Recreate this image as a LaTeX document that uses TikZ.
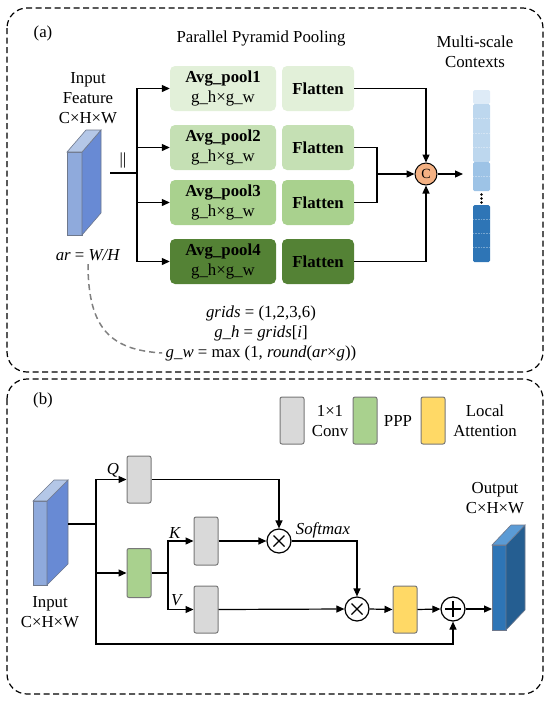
\documentclass[tikz,border=0pt]{standalone}
\usepackage{fontspec}
\setmainfont{Liberation Serif}
\usetikzlibrary{arrows.meta, positioning, calc}
\definecolor{poolA}{RGB}{226, 240, 217}
\definecolor{poolB}{RGB}{197, 224, 180}
\definecolor{poolC}{RGB}{169, 209, 142}
\definecolor{poolD}{RGB}{84, 130, 53}
\definecolor{catOrange}{RGB}{244, 177, 131}
\definecolor{ctxA}{RGB}{222, 235, 247}
\definecolor{ctxB}{RGB}{189, 215, 238}
\definecolor{ctxC}{RGB}{157, 195, 230}
\definecolor{ctxD}{RGB}{46, 117, 182}
\definecolor{inFront}{RGB}{143, 170, 220}
\definecolor{inSide}{RGB}{104, 138, 212}
\definecolor{inTop}{RGB}{180, 199, 231}
\definecolor{outFront}{RGB}{46, 117, 182}
\definecolor{outSide}{RGB}{37, 94, 145}
\definecolor{outTop}{RGB}{91, 155, 213}
\definecolor{cubeEdge}{RGB}{110, 120, 140}
\definecolor{convGray}{RGB}{217, 217, 217}
\definecolor{boxEdge}{RGB}{120, 120, 120}
\definecolor{pppGreen}{RGB}{169, 209, 142}
\definecolor{attnYellow}{RGB}{255, 217, 102}

\begin{document}
\begin{tikzpicture}[x=1pt, y=-1pt, font=\fontsize{16.8}{20}\selectfont,
    arr/.style={-{Triangle[length=8pt,width=7pt]}, line width=1.2pt},
    conn/.style={line width=1.2pt},
    panel/.style={dash pattern=on 6pt off 3.5pt, line width=1.2pt, rounded corners=20pt},
    poolbox/.style={rounded corners=5pt, minimum width=106pt, minimum height=45pt, align=center, inner sep=0pt},
    flatbox/.style={rounded corners=5pt, minimum width=72pt, minimum height=45pt, font=\fontsize{16.8}{20}\selectfont\bfseries, inner sep=0pt},
    cubeface/.style={draw=cubeEdge, line width=0.6pt, inner sep=0pt, outer sep=0pt},
    convbox/.style={draw=boxEdge, fill=convGray, rounded corners=2pt, line width=1pt, minimum width=24pt, minimum height=47pt, inner sep=0pt},
    opcirc/.style={circle, draw, line width=1.2pt, minimum size=24pt, inner sep=0pt},
    mulop/.style={opcirc, path picture={
        \draw[line width=1.2pt] ([shift={(-5.5pt,-5.5pt)}]path picture bounding box.center) -- ([shift={(5.5pt,5.5pt)}]path picture bounding box.center)
            ([shift={(-5.5pt,5.5pt)}]path picture bounding box.center) -- ([shift={(5.5pt,-5.5pt)}]path picture bounding box.center);}},
    addop/.style={opcirc, path picture={
        \draw[line width=1.2pt] ([shift={(-8pt,0pt)}]path picture bounding box.center) -- ([shift={(8pt,0pt)}]path picture bounding box.center)
            ([shift={(0pt,-8pt)}]path picture bounding box.center) -- ([shift={(0pt,8pt)}]path picture bounding box.center);}},
]
    \useasboundingbox (0,0) rectangle (550,702);

    % Panel (a): parallel pyramid pooling
    \draw[panel] (7,8) rectangle (543,372);
    \node (tagA) at (43,33) {(a)};
    \node (ppptitle) at (261,38) {Parallel Pyramid Pooling};
    \node[align=center] (ctxtitle) at (475,52) {Multi-scale\\Contexts};
    \node[align=center] (inAtxt) at (88,98) {Input\\Feature\\C×H×W};

    % input feature cuboid
    \node[cubeface, fill=inFront, minimum width=15pt, minimum height=83pt] (inA) at (74.5,193.5) {};
    \filldraw[fill=inSide, draw=cubeEdge, line width=0.6pt] (inA.north east) -- ++(19,-22) -- ++(0,83) -- (inA.south east) -- cycle;
    \filldraw[fill=inTop, draw=cubeEdge, line width=0.6pt] (inA.north west) -- ++(19,-22) -- ++(15,0) -- (inA.north east) -- cycle;
    \node (ar) at (88,255) {\textit{ar} = \textit{W/H}};
    \node (para) at (123,160) {||};

    % pooling branches
    \node[poolbox, fill=poolA] (pool1) at (223,88.5) {\textbf{Avg\_pool1}\\g\_h×g\_w};
    \node[poolbox, fill=poolB] (pool2) at (223,147.5) {\textbf{Avg\_pool2}\\g\_h×g\_w};
    \node[poolbox, fill=poolC] (pool3) at (223,202.5) {\textbf{Avg\_pool3}\\g\_h×g\_w};
    \node[poolbox, fill=poolD] (pool4) at (223,261.5) {\textbf{Avg\_pool4}\\g\_h×g\_w};
    \node[flatbox, fill=poolA] (flat1) at (318,88.5) {Flatten};
    \node[flatbox, fill=poolB] (flat2) at (318,147.5) {Flatten};
    \node[flatbox, fill=poolC] (flat3) at (318,202.5) {Flatten};
    \node[flatbox, fill=poolD] (flat4) at (318,261.5) {Flatten};
    \node[opcirc, fill=catOrange, minimum size=22pt, line width=1pt, font=\fontsize{14}{16}\selectfont] (cat) at (426,174) {C};

    \coordinate (inAout) at (110,173);
    \coordinate (splitA) at (137,173);
    \coordinate (merge) at (377,174);
    \coordinate (ctxin) at (463,174);
    \draw[conn] (inAout) -- (splitA);
    \foreach \i in {1,...,4} {
        \draw[arr] (splitA) |- (pool\i.west);
    }
    \draw[arr] (flat1.east) -| (cat.north);
    \draw[conn] (flat2.east) -| (merge);
    \draw[conn] (flat3.east) -| (merge);
    \draw[arr] (merge) -- (cat.west);
    \draw[arr] (flat4.east) -| (cat.south);
    \draw[arr] (cat.east) -- (ctxin);

    % multi-scale context vector
    \foreach \ya/\yb/\col in {90/104/ctxA, 104/162/ctxB, 162/191/ctxC, 205/262/ctxD} {
        \fill[\col, rounded corners=1.5pt] (473,\ya) rectangle (490,\yb);
    }
    \foreach \yy in {118.5,133,147.5,176.5,219.25,233.5,247.75} {
        \draw[white, opacity=0.35, line width=0.6pt, densely dotted] (473,\yy) -- (490,\yy);
    }
    \foreach \yy in {194.5,198.5,202.5} {
        \fill (481.5,\yy) circle (1.3pt);
    }

    % grid sizes
    \node (grids) at (261,313) {\textit{grids} = (1,2,3,6)};
    \node (gh) at (261,333) {\textit{g\_h} = \textit{grids}[\textit{i}]};
    \node (gw) at (261,353) {\textit{g\_w} = max (1, \textit{round}(\textit{ar}×\textit{g}))};
    \draw[gray, line width=1.5pt, dash pattern=on 6pt off 4pt] (ar.south) .. controls (88,330) and (112,350) .. (gw.west);

    % Panel (b): local attention with PPP
    \draw[panel] (7,379) rectangle (543,694);
    \node (tagB) at (43,400) {(b)};

    % legend
    \node[convbox] (legconv) at (292,420.5) {};
    \node[align=center] (legconvtxt) at (330,421) {1×1\\Conv};
    \node[convbox, fill=pppGreen] (legppp) at (365,420.5) {};
    \node (legppptxt) at (398,421) {PPP};
    \node[convbox, fill=attnYellow] (legattn) at (433,420.5) {};
    \node[align=center] (legattntxt) at (485,421) {Local\\Attention};

    % input and output cuboids
    \node[cubeface, fill=inFront, minimum width=14pt, minimum height=84pt] (inB) at (40,543) {};
    \filldraw[fill=inSide, draw=cubeEdge, line width=0.6pt] (inB.north east) -- ++(21,-21) -- ++(0,84) -- (inB.south east) -- cycle;
    \filldraw[fill=inTop, draw=cubeEdge, line width=0.6pt] (inB.north west) -- ++(21,-21) -- ++(14,0) -- (inB.north east) -- cycle;
    \node[align=center] (inBtxt) at (50,612) {Input\\C×H×W};
    \node[cubeface, fill=outFront, minimum width=14pt, minimum height=85pt] (outB) at (499,587.5) {};
    \filldraw[fill=outSide, draw=cubeEdge, line width=0.6pt] (outB.north east) -- ++(19,-20) -- ++(0,85) -- (outB.south east) -- cycle;
    \filldraw[fill=outTop, draw=cubeEdge, line width=0.6pt] (outB.north west) -- ++(19,-20) -- ++(14,0) -- (outB.north east) -- cycle;
    \node[align=center] (outBtxt) at (495,498) {Output\\C×H×W};

    % attention branches
    \node[convbox] (qconv) at (139,479.5) {};
    \node[convbox, fill=pppGreen, minimum height=49pt] (ppp) at (139,573) {};
    \node[convbox, minimum height=48pt] (kconv) at (206,541) {};
    \node[convbox] (vconv) at (206,609.5) {};
    \node[mulop] (mul1) at (279,541) {};
    \node[mulop] (mul2) at (357,609) {};
    \node[convbox, fill=attnYellow] (attn) at (405,609.5) {};
    \node[addop] (add) at (453,609) {};
    \node (qlab) at (113,470) {\textit{Q}};
    \node (klab) at (175,533) {\textit{K}};
    \node (vlab) at (177,600) {\textit{V}};
    \node (softmax) at (323,530) {\textit{Softmax}};

    \coordinate (inBout) at (68,524);
    \coordinate (splitB) at (96,524);
    \coordinate (splitV) at (168,573);
    \coordinate (skip) at (96,644);
    \draw[conn] (inBout) -- (splitB);
    \draw[arr] (splitB) |- (qconv.west);
    \draw[arr] (splitB) |- (ppp.west);
    \draw[arr] (splitB) -- (skip) -| (add.south);
    \draw[conn] (ppp.east) -- (splitV);
    \draw[arr] (splitV) |- (kconv.west);
    \draw[arr] (splitV) |- (vconv.west);
    \draw[arr] (qconv.east) -| (mul1.north);
    \draw[arr] (kconv.east) -- (mul1.west);
    \draw[arr] (mul1.east) -| (mul2.north);
    \draw[arr] (vconv.east) -- (mul2.west);
    \draw[arr] (mul2.east) -- (attn.west);
    \draw[arr] (attn.east) -- (add.west);
    \draw[arr] (add.east) -- (add -| outB.west);
\end{tikzpicture}
\end{document}
